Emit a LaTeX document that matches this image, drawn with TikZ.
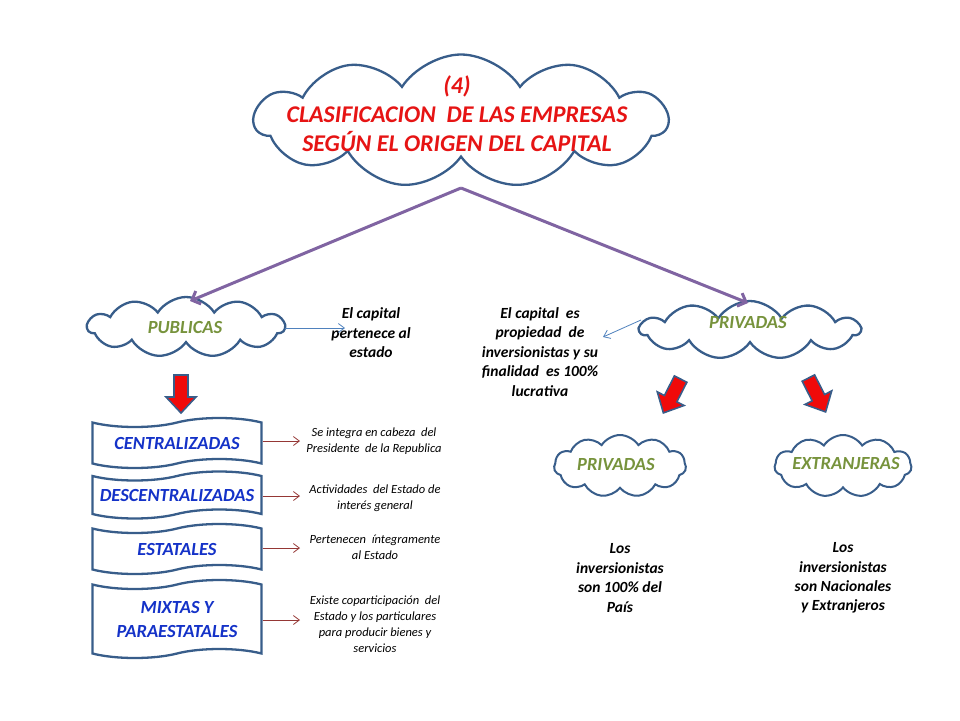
\documentclass[tikz,border=0pt]{standalone}
\usepackage{fontspec}
\setmainfont{Carlito}
\usetikzlibrary{shapes.symbols,arrows.meta}
\definecolor{cloudblue}{RGB}{56,93,138}
\definecolor{titlered}{RGB}{230,20,20}
\definecolor{olivegreen}{RGB}{119,147,60}
\definecolor{boxtext}{RGB}{20,50,200}
\definecolor{purplearrow}{RGB}{128,100,162}
\definecolor{thinblue}{RGB}{79,129,189}
\definecolor{darkred}{RGB}{149,55,53}
\definecolor{blockred}{RGB}{240,10,10}
\tikzset{
  cloudbox/.style={cloud, cloud puffs=11, cloud puff arc=115, cloud ignores aspect, draw=cloudblue, line width=2.3pt, fill=white, inner sep=0pt},
  cloudlabel/.style={font=\fontsize{18.5}{20}\selectfont\bfseries\itshape, text=olivegreen},
  tapebox/.style={tape, draw=cloudblue, line width=2.3pt, fill=white, minimum width=169pt, tape bend height=9pt, align=center, font=\fontsize{18.5}{24}\selectfont\bfseries\itshape, text=boxtext, inner sep=0pt},
  desc/.style={align=center, font=\fontsize{12.5}{16}\selectfont\itshape},
  bigdesc/.style={align=center, font=\fontsize{15.5}{19.4}\selectfont\bfseries\itshape},
  bigarrow/.style={draw=purplearrow, line width=3pt, -{Straight Barb[length=7pt,width=14pt]}},
  thinarrow/.style={draw=thinblue, line width=0.8pt, -{Straight Barb[length=6pt,width=9pt]}},
  redthin/.style={draw=darkred, line width=0.8pt, -{Straight Barb[length=6pt,width=9pt]}},
  blockarrow/.style={draw=cloudblue, line width=1.6pt, fill=blockred, line join=miter}
}
\newcommand{\blockarrowpath}{(-7,-19) -- (7,-19) -- (7,3) -- (15,3) -- (0,19) -- (-15,3) -- (-7,3) -- cycle}
\begin{document}
\begin{tikzpicture}[x=1pt,y=-1pt]
\useasboundingbox (0,0) rectangle (960,720);
% title cloud
\node[cloudbox, minimum width=413pt, minimum height=133pt] (title) at (461,121) {};
\node[align=center, text=titlered, font=\fontsize{24}{29}\selectfont\bfseries\itshape] (titletext) at (457,114) {(4)\\CLASIFICACION\ \ DE LAS EMPRESAS\\SEGÚN EL ORIGEN DEL CAPITAL};
% level 2 clouds
\node[cloudbox, minimum width=197pt, minimum height=60pt] (pub) at (186,327) {};
\node[cloudlabel] (publabel) at (185,327) {PUBLICAS};
\node[cloudbox, minimum width=220pt, minimum height=58pt] (priv) at (750,330) {};
\node[cloudlabel] (privlabel) at (748,323) {PRIVADAS};
% purple arrows
\coordinate (tbot) at (461,188);
\coordinate (pubtop) at (190,301);
\coordinate (privtop) at (748,303);
\draw[bigarrow] (tbot) -- (pubtop);
\draw[bigarrow] (tbot) -- (privtop);
% descriptions of level 2
\node[bigdesc] (pubdesc) at (371,333) {El capital\\pertenece al\\estado};
\coordinate (pubright) at (285,328);
\coordinate (pubtip) at (345,328);
\draw[thinarrow] (pubright) -- (pubtip);
\node[bigdesc] (privdesc) at (540,352) {El capital\ \ es\\propiedad\ \ de\\inversionistas y su\\finalidad\ \ es 100\%\\lucrativa};
\coordinate (privleft) at (641,320);
\coordinate (privtip) at (603,337);
\draw[thinarrow] (privleft) -- (privtip);
% red block arrows
\draw[blockarrow, shift={(181,394)}] \blockarrowpath;
\draw[blockarrow, shift={(672,396)}, rotate=-27] \blockarrowpath;
\draw[blockarrow, shift={(817,395)}, rotate=27] \blockarrowpath;
% tape boxes
\node[tapebox, minimum height=50pt] (b1) at (177,443) {CENTRALIZADAS};
\node[tapebox, minimum height=47pt] (b2) at (177,495) {DESCENTRALIZADAS};
\node[tapebox, minimum height=50pt] (b3) at (177,549) {ESTATALES};
\node[tapebox, minimum height=78pt] (b4) at (177,619) {MIXTAS Y\\PARAESTATALES};
% descriptions
\node[desc] (d1) at (374,441) {Se integra en cabeza\ \ del\\Presidente\ \ de la Republica};
\node[desc] (d2) at (375,498) {Actividades\ \ del Estado de\\interés general};
\node[desc] (d3) at (375,547) {Pertenecen\ \ íntegramente\\al Estado};
\node[desc] (d4) at (375,624) {Existe coparticipación\ \ del\\Estado y los particulares\\para producir bienes y\\servicios};
\coordinate (t1) at (300,441);
\coordinate (t2) at (300,496);
\coordinate (t3) at (300,548);
\coordinate (t4) at (300,620);
\draw[redthin] (b1.east |- t1) -- (t1);
\draw[redthin] (b2.east |- t2) -- (t2);
\draw[redthin] (b3.east |- t3) -- (t3);
\draw[redthin] (b4.east |- t4) -- (t4);
% small clouds
\node[cloudbox, minimum width=132pt, minimum height=62pt, line width=2pt] (priv2) at (620,466) {};
\node[cloudlabel] (priv2label) at (616,464) {PRIVADAS};
\node[cloudbox, minimum width=137pt, minimum height=62pt, line width=2pt] (ext) at (843,466) {};
\node[cloudlabel] (extlabel) at (846,464) {EXTRANJERAS};
% bottom texts
\node[bigdesc] (pd) at (620,578) {Los\\inversionistas\\son 100\% del\\País};
\node[bigdesc] (ed) at (843,578) {Los\\inversionistas\\son Nacionales\\y Extranjeros};
\end{tikzpicture}
\end{document}
